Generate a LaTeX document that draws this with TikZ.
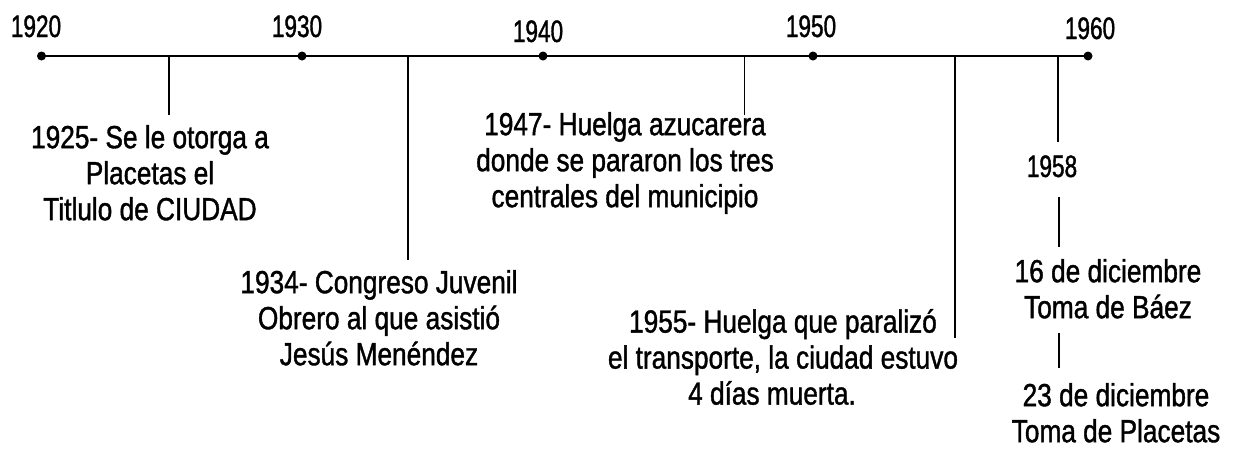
\documentclass[tikz,border=0pt]{standalone}
\usepackage{fontspec}
\newfontfamily\tlfont[FakeStretch=0.82,FakeBold=1.2]{Liberation Sans}
\newfontfamily\yrfont[FakeStretch=0.73,FakeBold=1.2]{Liberation Sans}
\begin{document}
\begin{tikzpicture}[x=1pt,y=-1pt,
  every node/.style={inner sep=0pt,outer sep=0pt},
  yearlbl/.style={font=\yrfont\fontsize{31}{36}\selectfont,anchor=base},
  event/.style={font=\tlfont\fontsize{32}{36}\selectfont,align=center,anchor=north},
  axis/.style={line width=2.6pt},
  tick/.style={line width=1.8pt},
  dot/.style={circle,fill=black,minimum size=9pt}]
\useasboundingbox (0,0) rectangle (1240,448);
\fill[white] (0,0) rectangle (1240,448);
% timeline
\coordinate (y1920) at (41.5,56);
\coordinate (y1930) at (302,56);
\coordinate (y1940) at (543,56);
\coordinate (y1950) at (813,56);
\coordinate (y1960) at (1088,56);
\draw[axis] (y1920) -- (y1960);
\foreach \p in {y1920,y1930,y1940,y1950,y1960} \node[dot] at (\p) {};
% year labels
\node[yearlbl] (l1920) at (36,37) {1920};
\node[yearlbl] (l1930) at (297,37) {1930};
\node[yearlbl] (l1940) at (538,42) {1940};
\node[yearlbl] (l1950) at (811,37) {1950};
\node[yearlbl] (l1960) at (1090,39) {1960};
% tick points
\coordinate (t1925) at (169,56);   \coordinate (e1925) at (169,115);
\coordinate (t1934) at (408,56);   \coordinate (e1934) at (408,260);
\coordinate (t1947) at (744.5,56); \coordinate (e1947) at (744.5,115);
\coordinate (t1955) at (955,56);   \coordinate (e1955) at (955,338);
\coordinate (t1958) at (1058,56);  \coordinate (e1958) at (1058,142);
\coordinate (a1958) at (1059,197); \coordinate (b1958) at (1059,247);
\coordinate (c1958) at (1059,333); \coordinate (d1958) at (1059,368);
\draw[tick] (t1925) -- (e1925);
\draw[tick] (t1934) -- (e1934);
\draw[tick] (t1947) -- (e1947);
\draw[tick] (t1955) -- (e1955);
\draw[tick] (t1958) -- (e1958);
\draw[tick] (a1958) -- (b1958);
\draw[tick] (c1958) -- (d1958);
% events
\node[event] (n1925) at (150,125) {1925- Se le otorga a\\Placetas el\\Titlulo de CIUDAD};
\node[event] (n1934) at (379,270) {1934- Congreso Juvenil\\Obrero al que asistió\\Jesús Menéndez};
\node[event] (n1947) at (625,112) {1947- Huelga azucarera\\donde se pararon los tres\\centrales del municipio};
\node[event] (n1955) at (783,309) {1955- Huelga que paralizó\\el transporte, la ciudad estuvo\\4 días muerta.\hspace*{22pt}};
\node[yearlbl] (n1958) at (1052,177) {1958};
\node[event] (n16) at (1108,259) {16 de diciembre\\Toma de Báez};
\node[event] (n23) at (1116,383) {23 de diciembre\\Toma de Placetas};
\end{tikzpicture}
\end{document}
